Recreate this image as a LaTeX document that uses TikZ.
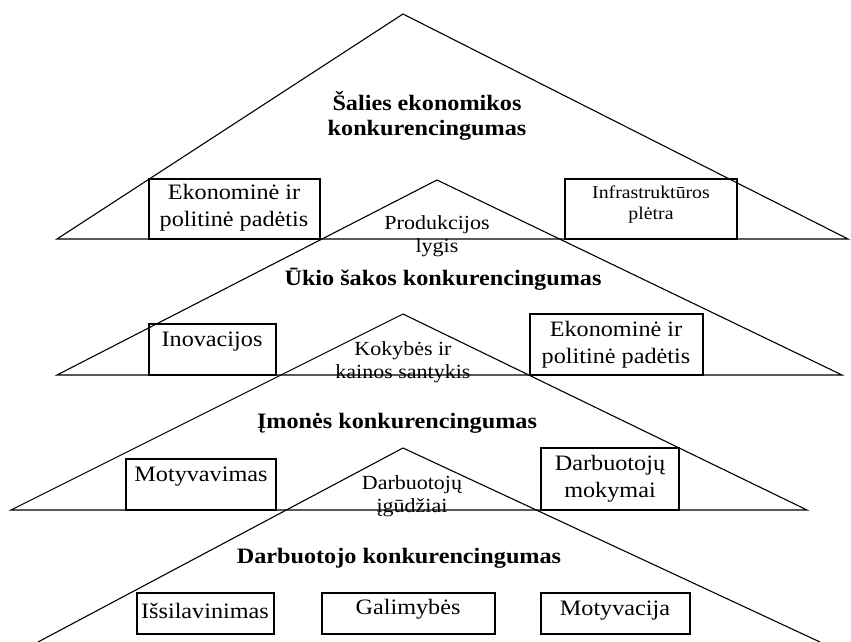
\documentclass[tikz,border=0pt]{standalone}
\usepackage{fontspec}
\setmainfont{Liberation Serif}[FakeStretch=1.1]
\usepackage{tikz}
\tikzset{every picture/.style={line width=1.1pt}}
\tikzset{
  ttl/.style={font=\bfseries\fontsize{22}{25}\selectfont, align=center, inner sep=0.75pt},
  txt/.style={font=\fontsize{22}{27}\selectfont, align=center, inner sep=0.75pt},
  mid/.style={font=\fontsize{20}{23}\selectfont, align=center, inner sep=0.75pt},
  sml/.style={font=\fontsize{18}{21}\selectfont, align=center, inner sep=0.75pt}
}

\begin{document}
\begin{tikzpicture}[x=1pt,y=1pt,yscale=-1,xscale=1]
\useasboundingbox (0,0) rectangle (851,642);

%Shape: Triangle [Salies]
\draw  (403,14) -- (848,239) -- (57,239) -- cycle ;
%Shape: Triangle [Ukio]
\draw  (437,180) -- (842,375) -- (57,375) -- cycle ;
%Shape: Triangle [Imones]
\draw  (403,314) -- (807,510) -- (11,510) -- cycle ;
%Shape: Triangle [Darbuotojo] (runs out at the bottom)
\draw  (38,642) -- (403,448) -- (820,642) ;

%Shape: Rectangle
\draw  (149,179) rectangle (320,239) ;
%Shape: Rectangle
\draw  (565,179) rectangle (737,239) ;
%Shape: Rectangle
\draw  (149,324) rectangle (276,375) ;
%Shape: Rectangle
\draw  (530,314) rectangle (703,375) ;
%Shape: Rectangle
\draw  (126,459) rectangle (276,510) ;
%Shape: Rectangle
\draw  (541,448) rectangle (679,510) ;
%Shape: Rectangle
\draw  (137,593) rectangle (274,634) ;
%Shape: Rectangle
\draw  (322,593) rectangle (495,634) ;
%Shape: Rectangle
\draw  (541,593) rectangle (690,634) ;

% Text Node
\node [ttl] (salies) at (427,116) {Šalies ekonomikos\\konkurencingumas};
% Text Node
\node [txt] (padetis1) at (234,208) {Ekonominė ir\\politinė padėtis};
% Text Node
\node [sml] (infra) at (651,205) {Infrastruktūros\\plėtra};
% Text Node
\node [mid] (produk) at (437,236) {Produkcijos\\lygis};
% Text Node
\node [ttl] (ukio) at (443,279) {Ūkio šakos konkurencingumas};
% Text Node
\node [txt] (inov) at (212,342) {Inovacijos};
% Text Node
\node [txt] (padetis2) at (616,345) {Ekonominė ir\\politinė padėtis};
% Text Node
\node [mid] (kokybe) at (403,362) {Kokybės ir\\kainos santykis};
% Text Node
\node [ttl] (imones) at (397,423) {Įmonės konkurencingumas};
% Text Node
\node [txt] (motyvav) at (201,477) {Motyvavimas};
% Text Node
\node [txt] (mokymai) at (610,479) {Darbuotojų\\mokymai};
% Text Node
\node [mid] (igudz) at (412,496) {Darbuotojų\\įgūdžiai};
% Text Node
\node [ttl] (darbuot) at (399,558) {Darbuotojo konkurencingumas};
% Text Node
\node [txt] (issilav) at (205,611) {Išsilavinimas};
% Text Node
\node [txt] (galim) at (408,609) {Galimybės};
% Text Node
\node [txt] (motyvac) at (615,611) {Motyvacija};

\end{tikzpicture}
\end{document}
